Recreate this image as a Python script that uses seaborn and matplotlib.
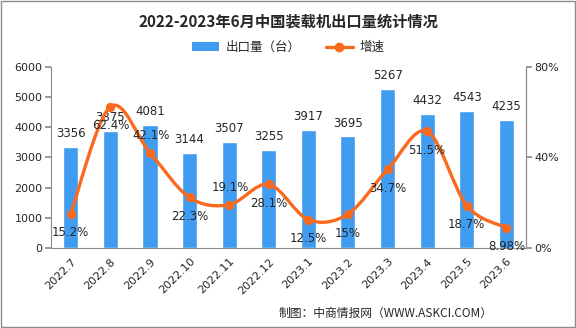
import numpy as np
import pandas as pd
import matplotlib
matplotlib.use("Agg")
import matplotlib.pyplot as plt
from matplotlib.path import Path
from matplotlib.patches import PathPatch, Rectangle
from matplotlib.lines import Line2D
from matplotlib.patches import Patch
import seaborn as sns

months = ["2022.7", "2022.8", "2022.9", "2022.10", "2022.11", "2022.12",
          "2023.1", "2023.2", "2023.3", "2023.4", "2023.5", "2023.6"]
volumes = [3356, 3875, 4081, 3144, 3507, 3255, 3917, 3695, 5267, 4432, 4543, 4235]
growth = [15.2, 62.4, 42.1, 22.3, 19.1, 28.1, 12.5, 15, 34.7, 51.5, 18.7, 8.98]
growth_labels = ["15.2%", "62.4%", "42.1%", "22.3%", "19.1%", "28.1%",
                 "12.5%", "15%", "34.7%", "51.5%", "18.7%", "8.98%"]
left_ticks = [0, 1000, 2000, 3000, 4000, 5000, 6000]
right_ticks = [0, 40, 80]
right_tick_labels = ["0%", "40%", "80%"]

title = "2022-2023年6月中国装载机出口量统计情况"
bar_name = "出口量（台）"
line_name = "增速"
footer = "制图：中商情报网（WWW.ASKCI.COM）"

BLUE = "#3f9cf0"
ORANGE = "#fa6a1e"
GRAY = "#8c8c8c"

sns.set_theme(style="white")
plt.rcParams["font.family"] = ["DejaVu Sans", "Noto Sans CJK SC"]
CJK = ["Noto Sans CJK SC", "DejaVu Sans"]

fig = plt.figure(figsize=(5.76, 3.28), dpi=100)
ax = fig.add_axes([0.0885, 0.244, 0.825, 0.552])

df = pd.DataFrame({"month": months, "volume": volumes})
sns.barplot(data=df, x="month", y="volume", color=BLUE, width=0.38,
            saturation=1, ax=ax)
ax.set_xlim(-0.5, len(months) - 0.5)
ax.set_ylim(0, 6000)
ax.set_yticks(left_ticks)
ax.set_xlabel("")
ax.set_ylabel("")
ax.set_xticks(range(len(months)))
ax.set_xticklabels(months, rotation=45, ha="right", rotation_mode="anchor",
                   fontsize=8)
ax.tick_params(axis="x", which="major", length=0, pad=6)
ax.set_xticks(np.arange(-0.5, len(months), 1), minor=True)
ax.tick_params(axis="x", which="minor", length=4, color=GRAY, direction="out")
ax.tick_params(axis="y", labelsize=8, length=4, color=GRAY, direction="out",
               left=True, pad=2)
for s in ["left", "bottom", "right"]:
    ax.spines[s].set_color(GRAY)
    ax.spines[s].set_linewidth(0.8)
ax.spines["top"].set_visible(False)

for i, v in enumerate(volumes):
    ax.annotate(str(v), (i, v), xytext=(0, 5), textcoords="offset points",
                ha="center", va="bottom", fontsize=8.5)

ax2 = ax.twinx()
ax2.set_ylim(0, 80)
ax2.set_yticks(right_ticks)
ax2.set_yticklabels(right_tick_labels)
ax2.tick_params(axis="y", labelsize=8, length=4, color=GRAY, direction="out",
                right=True, pad=2)
for s in ["left", "bottom", "right", "top"]:
    ax2.spines[s].set_visible(False)
ax2.spines["right"].set_visible(True)
ax2.spines["right"].set_color(GRAY)
ax2.spines["right"].set_linewidth(0.8)
ax2.grid(False)

# smooth curve (Bezier through the data points)
x = np.arange(len(growth), dtype=float)
y = np.array(growth, dtype=float)
pts = np.column_stack([x, y])
verts = [tuple(pts[0])]
codes = [Path.MOVETO]
n = len(pts)
for i in range(n - 1):
    p0 = pts[i - 1] if i > 0 else pts[i]
    p1 = pts[i]
    p2 = pts[i + 1]
    p3 = pts[i + 2] if i + 2 < n else pts[i + 1]
    c1 = p1 + (p2 - p0) / 6.0
    c2 = p2 - (p3 - p1) / 6.0
    verts += [tuple(c1), tuple(c2), tuple(p2)]
    codes += [Path.CURVE4] * 3
ax2.add_patch(PathPatch(Path(verts, codes), facecolor="none",
                        edgecolor=ORANGE, lw=2.4, zorder=3))
sns.scatterplot(x=x, y=y, color=ORANGE, s=45, edgecolor=ORANGE,
                linewidth=0, ax=ax2, zorder=4, legend=False)

above = {2, 4}
for i, (g, lab) in enumerate(zip(growth, growth_labels)):
    if i in above:
        ax2.annotate(lab, (i, g), xytext=(1, 8), textcoords="offset points",
                     ha="center", va="bottom", fontsize=8.5)
    else:
        ax2.annotate(lab, (i, g), xytext=(0, -9), textcoords="offset points",
                     ha="center", va="top", fontsize=8.5)

fig.text(0.5, 0.935, title, ha="center", va="center", fontsize=11,
         fontweight="bold", family=CJK)

handles = [Patch(facecolor=BLUE, edgecolor="none"),
           Line2D([0], [0], color=ORANGE, lw=2.4, marker="o", markersize=6)]
fig.legend(handles, [bar_name, line_name], loc="center",
           bbox_to_anchor=(0.5, 0.855), ncol=2, frameon=False,
           prop={"family": CJK, "size": 9}, handlelength=2.2,
           columnspacing=2.0, handletextpad=0.5)

fig.text(0.855, 0.045, footer, ha="right", va="center", fontsize=8.5,
         family=CJK)

fig.add_artist(Rectangle((0.001, 0.002), 0.997, 0.995, transform=fig.transFigure,
                         facecolor="none", edgecolor=GRAY, lw=1))

fig.savefig("out.png", dpi=100)
